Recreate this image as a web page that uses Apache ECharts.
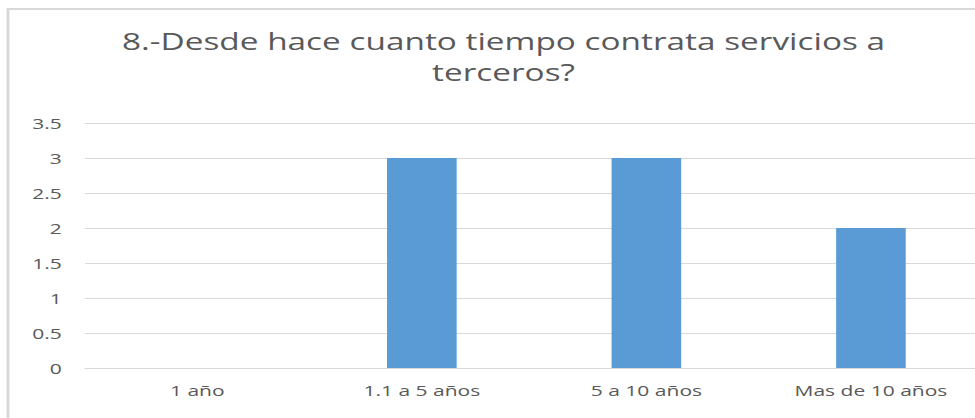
<!DOCTYPE html>
<html>
<head>
<meta charset="utf-8">
<script src="https://cdn.jsdelivr.net/npm/echarts@6/dist/echarts.min.js"></script>
<style>
  html, body { margin: 0; padding: 0; background: #fff; overflow: hidden; }
  /* The chart is laid out narrow and widened horizontally, giving the wide lettering */
  #chart { width: 700px; height: 418px; transform: scaleX(1.451); transform-origin: 0 0; }
</style>
</head>
<body>
<div id="chart"></div>
<script>
// Survey answers: how long the company has been outsourcing services
const categories = ['1 año', '1.1 a 5 años', '5 a 10 años', 'Mas de 10 años'];
const counts = [0, 3, 3, 2];
const yTicks = { min: 0, max: 3.5, interval: 0.5 };
const titleText = '8.-Desde hace cuanto tiempo contrata servicios a\nterceros?';

const textColor = '#595959';
const gridColor = '#d9d9d9';
const barColor = '#5b9bd5';
const fontFamily = '"Open Sans", "Noto Sans", sans-serif';

const chart = echarts.init(document.getElementById('chart'), null, { renderer: 'svg' });
chart.setOption({
  animation: false,
  backgroundColor: '#fff',
  graphic: [{
    type: 'rect',
    shape: { x: 5.5, y: 9, width: 720, height: 430 },
    style: { fill: 'none', stroke: gridColor, lineWidth: 2 },
    silent: true,
    z: -1
  }],
  title: {
    text: titleText,
    left: 342,
    top: 20,
    textAlign: 'center',
    textStyle: {
      color: textColor,
      fontFamily: fontFamily,
      fontSize: 23,
      fontWeight: 'normal',
      lineHeight: 31
    }
  },
  grid: { left: 58.6, top: 123, width: 619, height: 245, containLabel: false },
  xAxis: {
    type: 'category',
    data: categories,
    axisLine: { lineStyle: { color: gridColor, width: 1 } },
    axisTick: { show: false },
    axisLabel: { color: textColor, fontFamily: fontFamily, fontSize: 14.5, margin: 15 }
  },
  yAxis: {
    type: 'value',
    min: yTicks.min,
    max: yTicks.max,
    interval: yTicks.interval,
    axisLine: { show: false },
    axisTick: { show: false },
    axisLabel: { color: textColor, fontFamily: fontFamily, fontSize: 14.5, margin: 16 },
    splitLine: { lineStyle: { color: gridColor, width: 1 } }
  },
  series: [{
    type: 'bar',
    data: counts,
    barWidth: '31%',
    itemStyle: { color: barColor }
  }]
});
</script>
</body>
</html>
